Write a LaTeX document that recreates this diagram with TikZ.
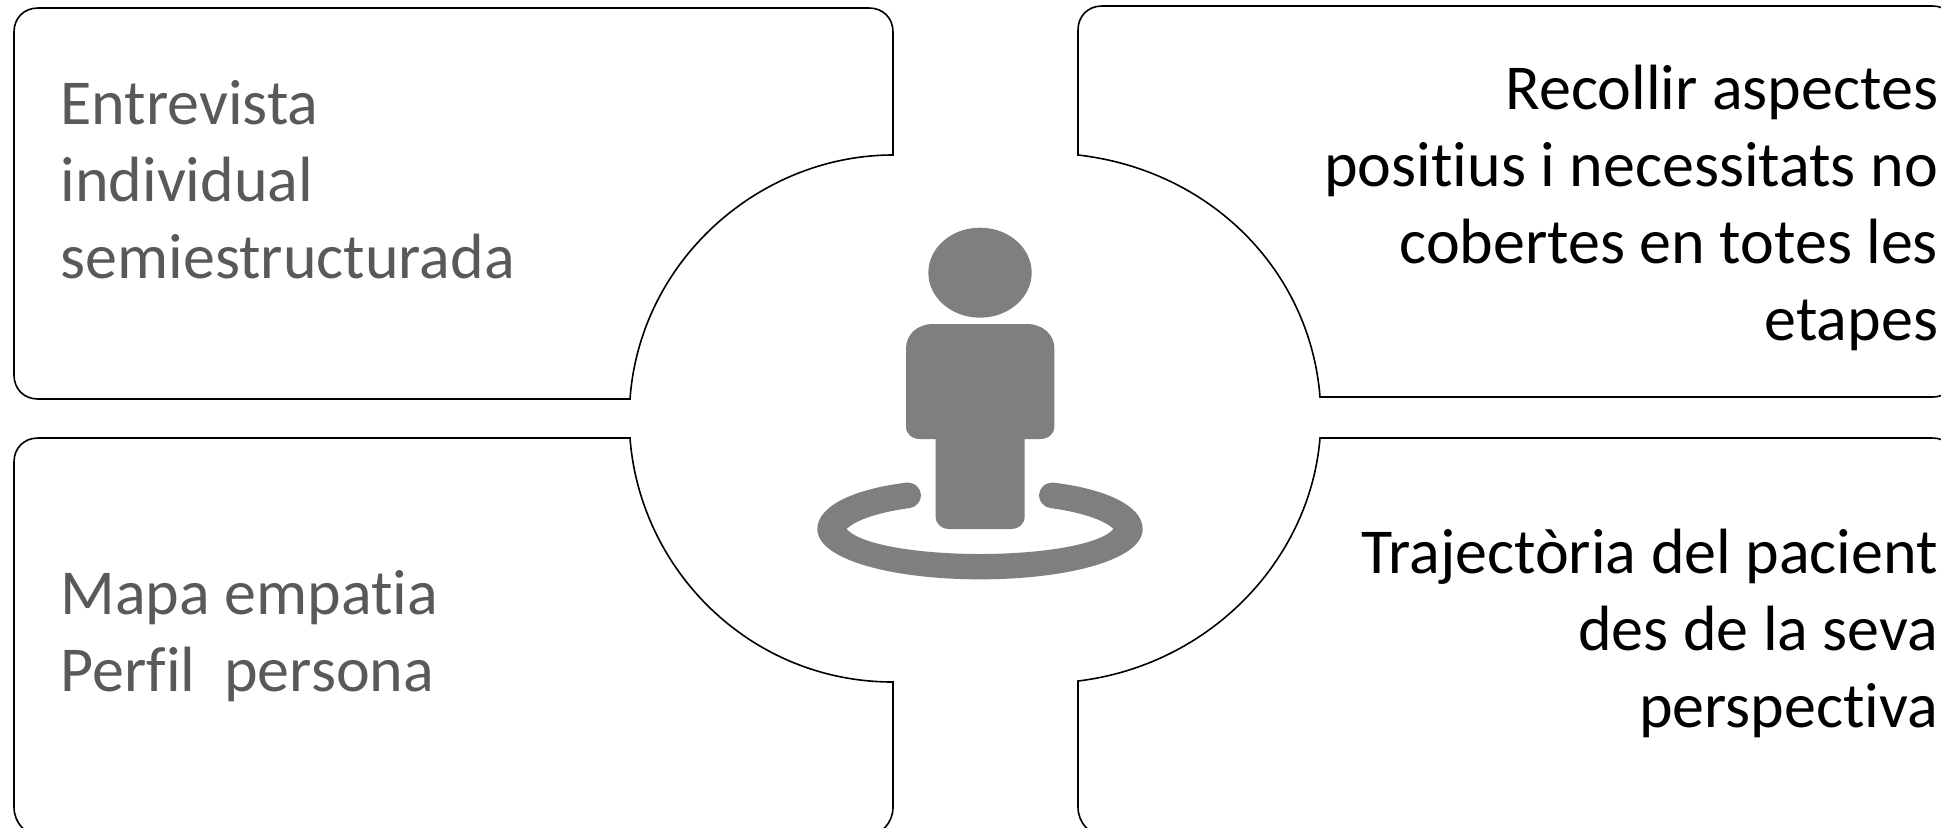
\documentclass[tikz,border=0pt]{standalone}
\usepackage{fontspec}
\setmainfont[Ligatures=NoCommon]{Carlito}
\definecolor{icongray}{HTML}{7F7F7F}
\definecolor{lefttext}{HTML}{595959}
\tikzset{
  panel/.style={draw=black,line width=0.8pt,fill=white,line join=miter},
  labeltext/.style={inner sep=0pt,outer sep=0pt,font=\fontsize{32}{38.5}\selectfont},
  leftlabel/.style={labeltext,text=lefttext,align=left,anchor=base west},
  rightlabel/.style={labeltext,text=black,align=right,anchor=base east},
  icon/.style={fill=icongray,draw=none}
}
\begin{document}
\begin{tikzpicture}[x=0.5pt,y=-0.5pt]
\useasboundingbox (0,0) rectangle (1941,827);
\fill[white] (0,0) rectangle (1941,827);
% panels
\draw[panel] (38,8) -- (869,8) .. controls (883,8) and (893,18) .. (893,32) -- (893,155)
  .. controls (760,155) and (640,260) .. (630,399) -- (38,399)
  .. controls (24,399) and (14,389) .. (14,375) -- (14,32) .. controls (14,18) and (24,8) .. (38,8) -- cycle;
\draw[panel] (1102,6) -- (1932,6) .. controls (1948,6) and (1960,18) .. (1960,34) -- (1960,369)
  .. controls (1960,385) and (1948,397) .. (1932,397) -- (1320,397)
  .. controls (1310,270) and (1210,170) .. (1078,155) -- (1078,30)
  .. controls (1078,16) and (1088,6) .. (1102,6) -- cycle;
\draw[panel] (38,438) -- (630,438) .. controls (640,570) and (750,682) .. (893,682) -- (893,807)
  .. controls (893,823) and (881,836) .. (865,836) -- (42,836)
  .. controls (26,836) and (14,823) .. (14,807) -- (14,462) .. controls (14,448) and (24,438) .. (38,438) -- cycle;
\draw[panel] (1320,438) -- (1932,438) .. controls (1948,438) and (1960,450) .. (1960,466) -- (1960,807)
  .. controls (1960,823) and (1948,836) .. (1932,836) -- (1106,836)
  .. controls (1090,836) and (1078,823) .. (1078,807) -- (1078,681)
  .. controls (1210,665) and (1310,560) .. (1320,438) -- cycle;
% icon
\begin{scope}[shift={(780,200)},scale=1/3]
\fill[icon] (600,218) ellipse [x radius=155,y radius=135];
\fill[icon] (460,372) -- (740,372) .. controls (790,372) and (823,405) .. (823,445) -- (823,680)
  .. controls (823,702) and (805,717) .. (780,717) -- (734,717) -- (734,950)
  .. controls (734,972) and (715,987) .. (695,987) -- (505,987)
  .. controls (485,987) and (467,972) .. (467,950) -- (467,717) -- (420,717)
  .. controls (395,717) and (378,702) .. (378,680) -- (378,445)
  .. controls (378,405) and (410,372) .. (460,372) -- cycle;
\fill[icon] (378,848) .. controls (405,846) and (423,865) .. (423,886)
  .. controls (423,905) and (408,921) .. (390,924)
  .. controls (300,936) and (225,960) .. (200,987)
  .. controls (240,1035) and (420,1062) .. (600,1062)
  .. controls (780,1062) and (960,1035) .. (1000,987)
  .. controls (975,960) and (900,936) .. (810,924)
  .. controls (792,921) and (777,905) .. (777,886)
  .. controls (777,865) and (795,846) .. (822,848)
  .. controls (970,866) and (1088,915) .. (1088,987)
  .. controls (1088,1080) and (860,1138) .. (600,1138)
  .. controls (340,1138) and (112,1080) .. (112,987)
  .. controls (112,915) and (230,866) .. (378,848) -- cycle;
\end{scope}
% labels
\node[leftlabel] (tl) at (60.5,278) {Entrevista\\individual\\semiestructurada};
\node[leftlabel] (bl) at (60.5,691) {Mapa empatia\\Perfil\ \ persona};
\node[rightlabel] (tr) at (1938,340) {Recollir aspectes\\positius i necessitats no\\cobertes en totes les\\etapes};
\node[rightlabel] (br) at (1938,727) {Trajectòria del pacient\\des de la seva\\perspectiva};
\end{tikzpicture}
\end{document}
